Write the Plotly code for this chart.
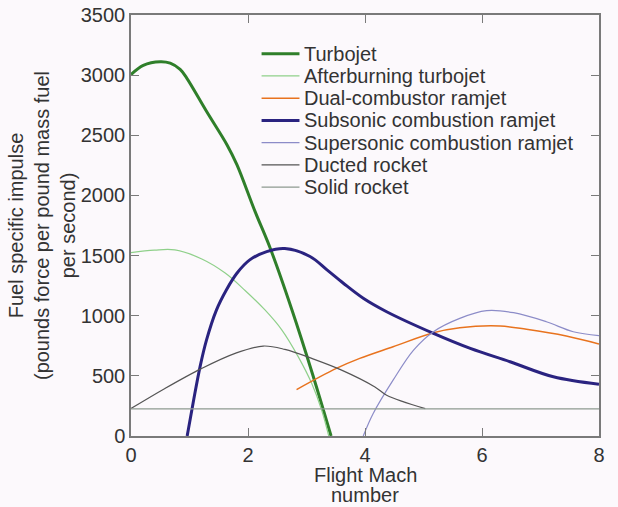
import plotly.graph_objects as go

turbojet_x = [0, 0.21, 0.5, 0.67, 0.84, 0.95, 1.29, 1.64, 1.81, 2.12, 2.38, 2.75, 3.1, 3.42]
turbojet_y = [3005, 3082, 3112, 3100, 3048, 2978, 2700, 2422, 2256, 1867, 1561, 1050, 520, 0]

afterburning_x = [0, 0.4, 0.75, 1.21, 1.61, 1.95, 2.29, 2.58, 2.86, 3.09, 3.26, 3.38]
afterburning_y = [1525, 1545, 1547, 1472, 1355, 1210, 1048, 881, 658, 436, 214, 0]

dual_x = [2.83, 3.51, 3.91, 4.48, 5.17, 5.62, 6.31, 6.76, 7.44, 8.0]
dual_y = [386, 562, 645, 742, 858, 900, 914, 887, 831, 765]

subsonic_x = [0.96, 1.07, 1.18, 1.29, 1.46, 1.63, 1.81, 2.03, 2.32, 2.63, 3.06, 3.35, 3.63,
              3.97, 4.37, 5.17, 5.80, 6.48, 7.22, 8.0]
subsonic_y = [0, 297, 575, 797, 1047, 1214, 1353, 1464, 1533, 1558, 1492, 1381, 1270,
              1145, 1033, 853, 728, 617, 492, 430]

supersonic_x = [3.97, 4.14, 4.48, 4.83, 5.17, 5.62, 6.08, 6.54, 7.10, 7.56, 8.0]
supersonic_y = [0, 187, 464, 714, 867, 978, 1042, 1025, 950, 867, 835]

ducted_x = [0, 0.58, 1.21, 1.78, 2.26, 2.63, 3.09, 3.60, 4.17, 4.37, 5.03]
ducted_y = [228, 395, 562, 687, 748, 720, 645, 548, 408, 339, 228]

solid_x = [0, 8]
solid_y = [225, 225]

series_names = ["Turbojet", "Afterburning turbojet", "Dual-combustor ramjet",
                "Subsonic combustion ramjet", "Supersonic combustion ramjet",
                "Ducted rocket", "Solid rocket"]
series_x = [turbojet_x, afterburning_x, dual_x, subsonic_x, supersonic_x, ducted_x, solid_x]
series_y = [turbojet_y, afterburning_y, dual_y, subsonic_y, supersonic_y, ducted_y, solid_y]
colors = ["#2f7f2a", "#8fd08a", "#e8731e", "#2a2380", "#8c8cc8", "#555555", "#8e9a90"]
widths = [3, 1.2, 1.5, 3, 1.2, 1.2, 1.2]

x_title_lines = ["Flight Mach", "number"]
y_title = "Fuel specific impulse<br>(pounds force per pound mass fuel<br>per second)"

font = dict(family="Liberation Sans, Arial, sans-serif", size=20, color="#333333")
tfont = dict(family="Liberation Sans, Arial, sans-serif", size=20, color="#333333")
bg = "#fcf9fc"

fig = go.Figure()
for name, xs, ys, color, w in zip(series_names, series_x, series_y, colors, widths):
    fig.add_trace(go.Scatter(x=xs, y=ys, mode="lines", name=name, showlegend=False,
                             line=dict(color=color, width=w, shape="spline", smoothing=1.0)))

# Compact legend (tight row spacing like the original figure), in paper coordinates
leg_x0, leg_x1, leg_tx = 0.279, 0.36, 0.368
leg_top, leg_step = 0.908, 0.0528
for i, (name, color, w) in enumerate(zip(series_names, colors, widths)):
    yy = leg_top - i * leg_step
    fig.add_shape(type="line", xref="paper", yref="paper", x0=leg_x0, x1=leg_x1, y0=yy, y1=yy,
                  line=dict(color=color, width=w))
    fig.add_annotation(xref="paper", yref="paper", x=leg_tx, y=yy, text=name, showarrow=False,
                       xanchor="left", yanchor="middle", font=tfont, borderpad=0)

# x-axis title (two lines with the original's tight spacing)
for txt, yy in zip(x_title_lines, [-0.093, -0.141]):
    fig.add_annotation(xref="paper", yref="paper", x=0.5, y=yy, text=txt, showarrow=False,
                       xanchor="center", yanchor="middle", font=font, borderpad=0)

axis_common = dict(showline=True, linecolor="#7a7a7a", linewidth=1.5, mirror="ticks",
                   ticks="inside", ticklen=8, tickcolor="#7a7a7a", tickwidth=1,
                   showgrid=False, zeroline=False, tickfont=tfont, automargin=False)

fig.update_layout(
    width=618, height=507,
    margin=dict(l=131, r=19, t=15, b=71, autoexpand=False),
    paper_bgcolor=bg, plot_bgcolor=bg,
    font=font,
    xaxis=dict(range=[0, 8], dtick=2, tick0=0, **axis_common),
    yaxis=dict(range=[0, 3500], dtick=500, tick0=0,
               title=dict(text=y_title, font=font, standoff=0),
               **axis_common),
)

fig.write_html("out.html", config={"displayModeBar": False},
               post_script="document.body.style.margin='0';document.body.style.padding='0';"
                           "document.body.style.background='" + bg + "';")
